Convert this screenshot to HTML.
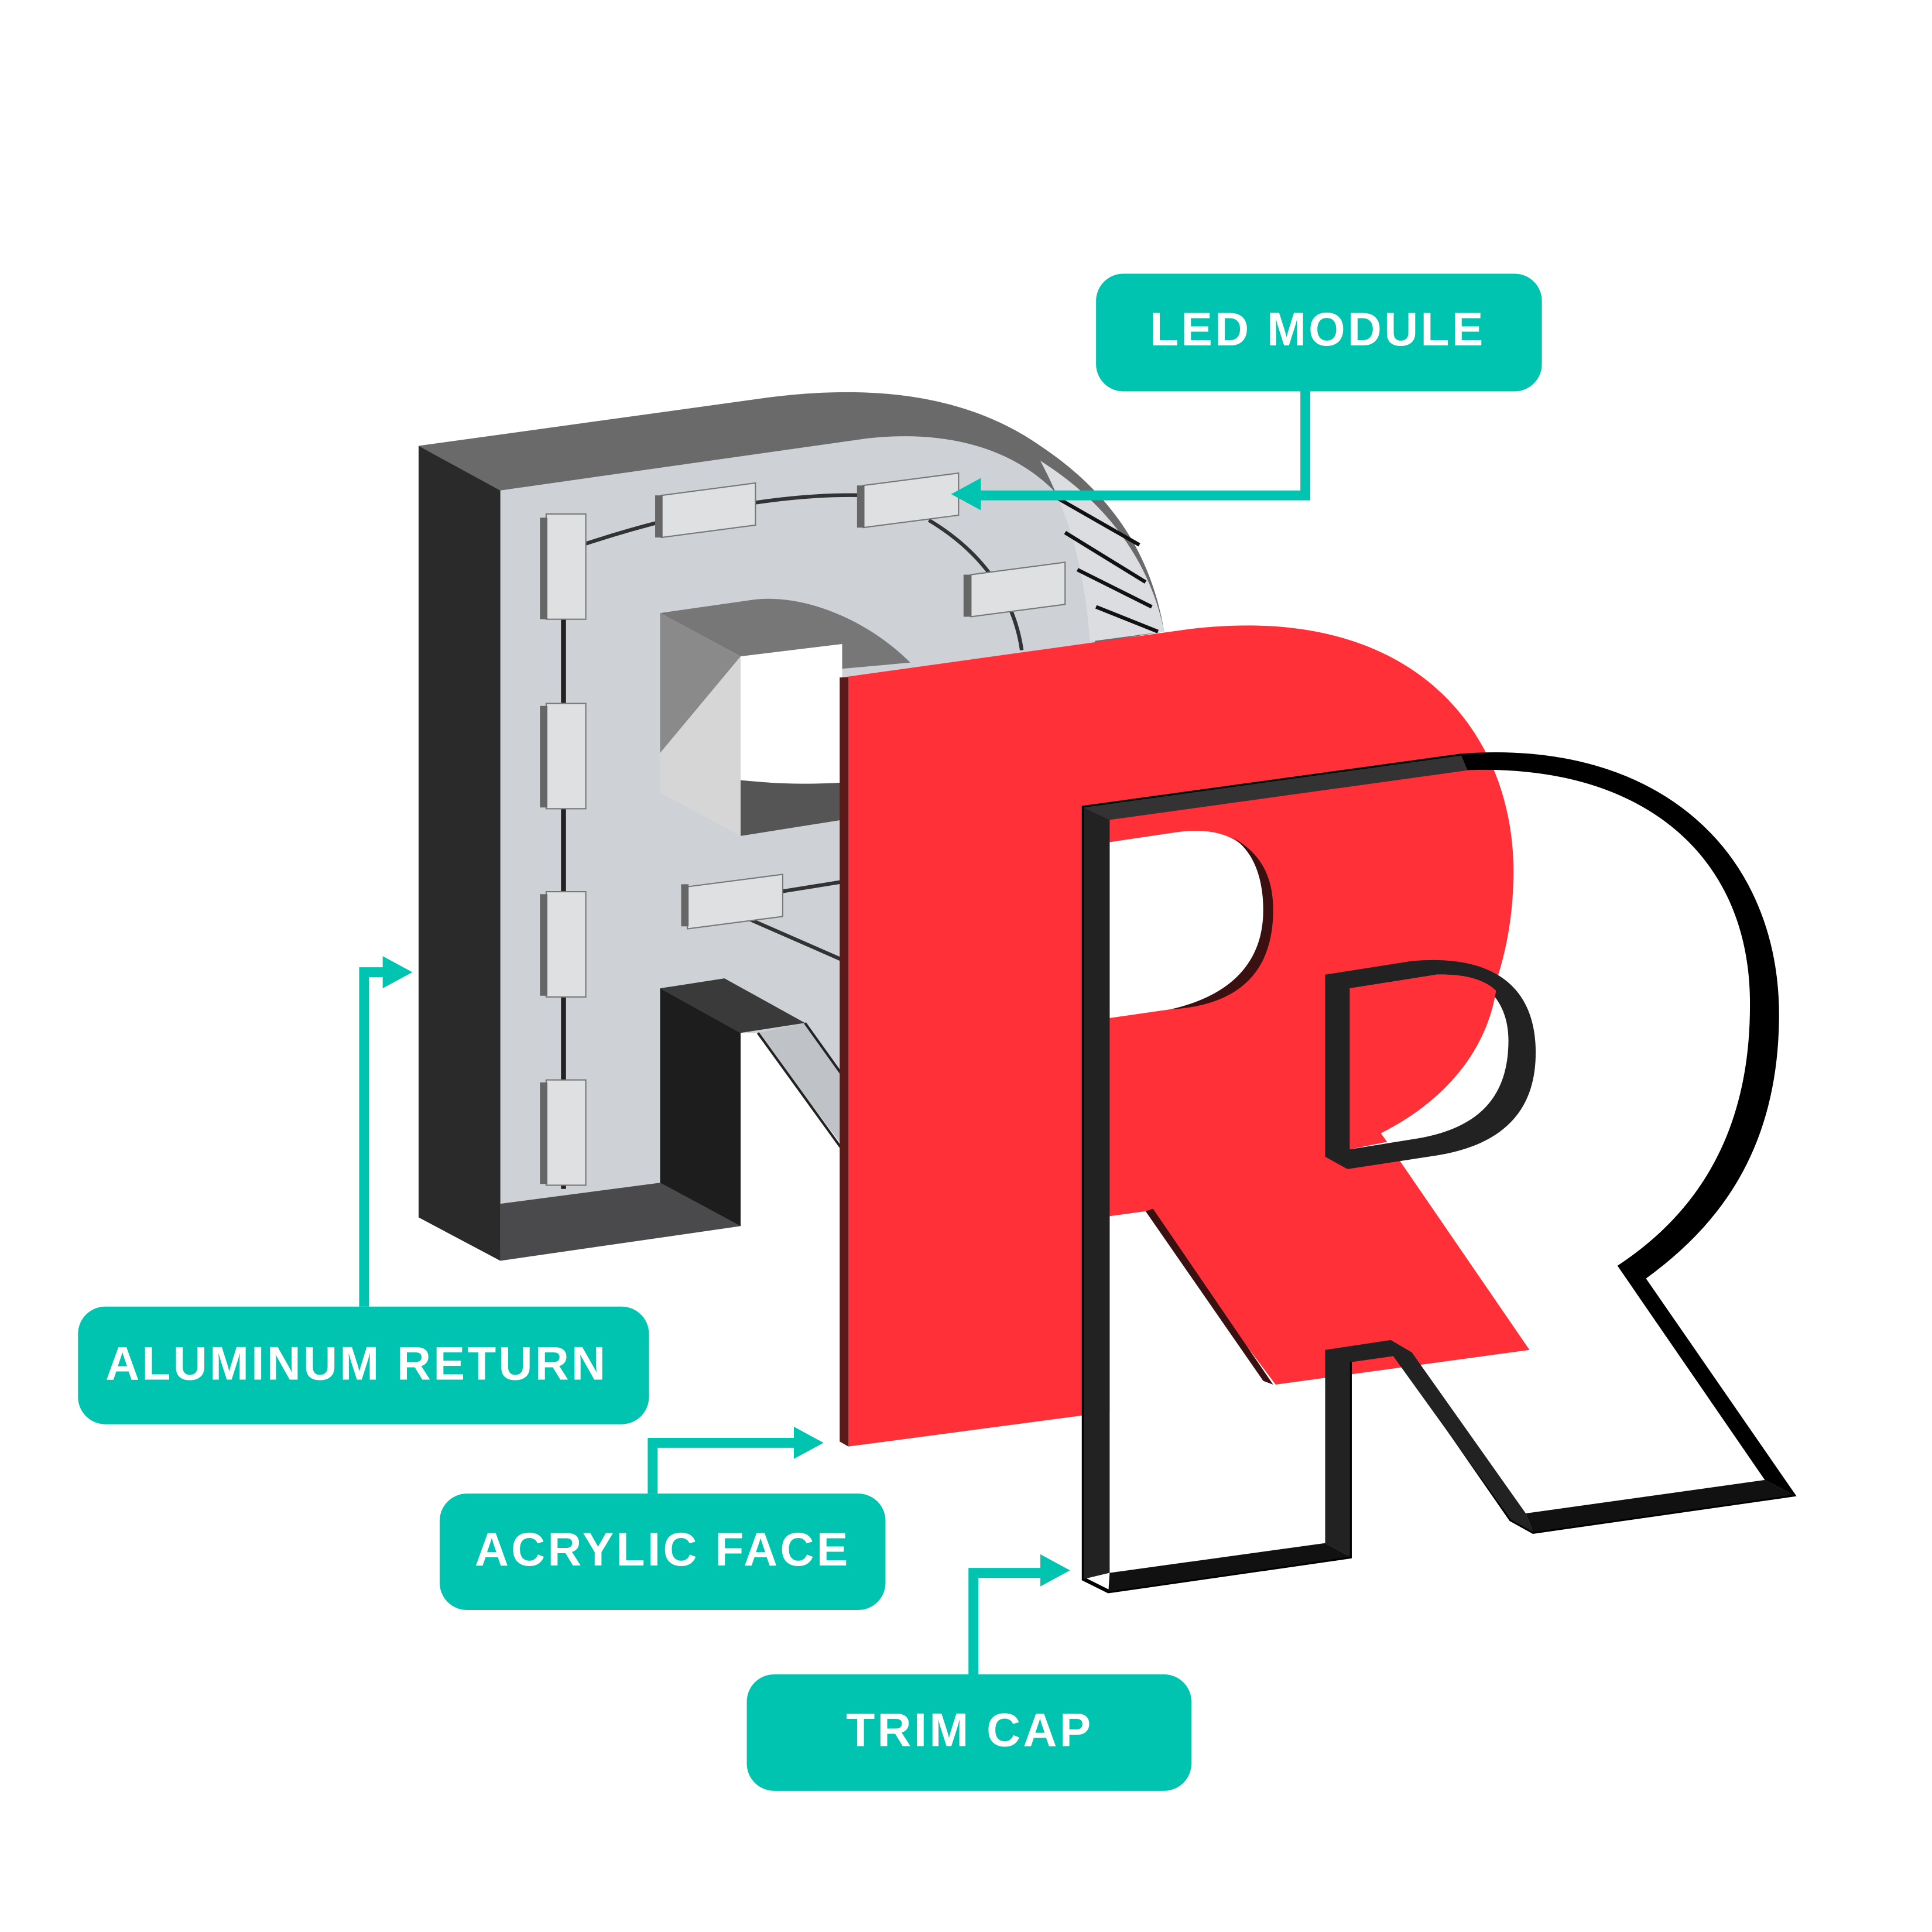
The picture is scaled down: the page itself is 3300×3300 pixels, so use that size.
<!DOCTYPE html>
<html><head><meta charset="utf-8"><style>
html,body{margin:0;padding:0;background:#fff}
svg{display:block}
text{font-family:"Liberation Sans",sans-serif;font-weight:bold;fill:#fff}
</style></head><body>
<svg width="3300" height="3300" viewBox="0 0 1560 1560" xmlns="http://www.w3.org/2000/svg">
<rect width="1560" height="1560" fill="#fff"/>
<!-- Gray R back -->
<path d="M338,360 L620,321 C720,308 790,325 840,360 C900,400 930,450 940,510 L880,520 C870,440 830,380 760,355 L404,396 Z" fill="#6a6a6b"/>
<path d="M404,396 L700,354 C780,345 850,370 880,440 C895,480 880,530 880,560 L680,560 L680,925 L612,834 L598,834 L598,990 L404,1018 Z" fill="#ced1d5"/>
<path d="M840,372 C900,410 930,460 940,510 L880,518 C875,450 860,410 840,372 Z" fill="#dcdde0"/>
<path d="M850,400 L920,440 M860,430 L925,470 M870,460 L930,490 M885,490 L935,510" stroke="#111" stroke-width="3"/>
<path d="M338,360 L404,396 L404,1018 L338,983 Z" fill="#2a2a2a"/>
<path d="M404,972 L533,955 L598,990 L404,1018 Z" fill="#4a4a4c"/>
<path d="M533,495 L610,484 C650,480 700,500 735,535 L680,540 L598,530 Z" fill="#777"/>
<path d="M598,530 L680,520 L680,632 C640,634 620,632 598,630 Z" fill="#fff"/>
<path d="M598,630 C620,632 640,634 680,632 L680,662 L598,675 Z" fill="#555"/>
<path d="M533,495 L598,530 L598,675 L533,640 Z" fill="#d6d6d6"/>
<path d="M533,495 L598,530 L533,608 Z" fill="#8a8a8a"/>
<path d="M533,798 L585,790 L650,826 L598,834 Z" fill="#3a3a3a"/>
<path d="M533,798 L598,834 L598,990 L533,955 Z" fill="#1d1d1d"/>
<path d="M612,834 L680,925 L680,870 L650,826 Z" fill="#bfc2c6"/>
<path d="M612,834 L680,928 M650,826 L680,868" stroke="#222" stroke-width="2"/>
<path d="M455,440 L455,960" stroke="#222" stroke-width="4"/>
<path d="M470,440 C560,410 640,398 700,400 M750,420 C800,450 820,490 825,525 M600,740 L680,775 M630,720 L680,712" stroke="#333" stroke-width="3" fill="none"/>
<g fill="#dfe0e2" stroke="#777" stroke-width="1">
<rect x="441" y="415" width="32" height="85"/><rect x="441" y="568" width="32" height="85"/>
<rect x="441" y="720" width="32" height="85"/><rect x="441" y="872" width="32" height="85"/>
<path d="M534,400 L610,390 L610,424 L534,434 Z"/><path d="M697,392 L774,382 L774,416 L697,426 Z"/>
<path d="M784,464 L860,454 L860,488 L784,498 Z"/><path d="M555,716 L632,706 L632,740 L555,750 Z"/>
</g>
<g fill="#666"><rect x="436" y="418" width="6" height="82"/><rect x="436" y="570" width="6" height="82"/><rect x="436" y="722" width="6" height="82"/><rect x="436" y="874" width="6" height="82"/>
<rect x="529" y="400" width="6" height="34"/><rect x="692" y="392" width="6" height="34"/><rect x="778" y="464" width="6" height="34"/><rect x="550" y="714" width="6" height="34"/></g>
<!-- Red face -->
<path d="M680,547 L960,508 C1150,485 1225,600 1222,710 C1220,800 1180,870 1115,915 L1235,1090 L1030,1118 L925,978 L896,982 L896,1140 L685,1168 Z" fill="#ff3038"/>
<path d="M678,547 L685,547 L685,1168 L678,1164 Z" fill="#5a1a1a"/>
<path d="M896,680 L950,672 C1000,665 1022,690 1022,735 C1022,780 995,808 945,815 L896,822 Z" fill="#fff"/>
<path d="M995,676 C1020,690 1028,710 1028,735 C1028,785 1000,812 945,815 C990,805 1020,780 1020,735 C1020,705 1010,686 995,676 Z" fill="#3a1010"/>
<path d="M925,978 L1020,1115 L1028,1118 L931,976 Z" fill="#3a1010"/>
<!-- White R trim -->
<path d="M875,652 L1180,610 C1340,598 1436,690 1435,822 C1434,930 1385,990 1327,1032 L1448,1207 L1238,1237 L1220,1227 L1125,1090 L1090,1096 L1090,1257 L895,1285 L875,1275 Z" fill="none" stroke="#000" stroke-width="3"/>
<path d="M1180,610 C1340,598 1436,690 1435,822 C1434,930 1385,990 1327,1032 L1448,1207 L1425,1195 L1306,1022 C1370,980 1413,915 1413,812 C1414,690 1325,615 1180,622 Z" fill="#000"/>
<path d="M875,652 L1180,610 L1185,622 L896,662 Z" fill="#333"/>
<path d="M875,652 L896,662 L896,1270 L875,1275 Z" fill="#222"/>
<path d="M896,1270 L1070,1246 L1090,1257 L895,1285 Z" fill="#111"/>
<path d="M1070,1090 L1123,1082 L1140,1092 L1232,1222 L1238,1237 L1220,1227 L1125,1095 L1090,1100 L1090,1257 L1070,1246 Z" fill="#222"/>
<path d="M1238,1237 L1448,1207 L1425,1195 L1232,1222 Z" fill="#111"/>
<path d="M1070,787 L1140,776 C1210,770 1240,800 1240,850 C1240,900 1210,925 1160,933 L1088,944 L1070,934 Z" fill="#222"/>
<path d="M1090,798 L1160,787 C1200,785 1218,810 1218,840 C1218,885 1195,912 1140,920 L1090,928 Z" fill="#fff"/>
<path d="M1090,798 L1160,787 C1185,786 1200,792 1208,800 C1200,850 1165,890 1115,915 L1120,922 L1090,928 Z" fill="#ff3038"/>
<!-- Labels -->
<g fill="#00c4b0">
<rect x="885" y="221" width="360" height="95" rx="22"/>
<rect x="63" y="1055" width="461" height="95" rx="22"/>
<rect x="355" y="1206" width="360" height="94" rx="22"/>
<rect x="603" y="1352" width="359" height="94" rx="22"/>
<path d="M768,399 L792,386 L792,412 Z"/>
<path d="M333,785 L309,772 L309,798 Z"/>
<path d="M665,1165 L641,1152 L641,1178 Z"/>
<path d="M864,1268 L840,1255 L840,1281 Z"/>
</g>
<g fill="none" stroke="#00c4b0" stroke-width="8">
<path d="M1054,316 L1054,400 L790,400"/>
<path d="M294,1055 L294,785 L312,785"/>
<path d="M527,1206 L527,1165 L643,1165"/>
<path d="M786,1352 L786,1270 L842,1270"/>
</g>
<g font-size="38" text-anchor="middle" letter-spacing="2">
<text x="1064" y="279">LED MODULE</text>
<text x="288" y="1114">ALUMINUM RETURN</text>
<text x="535" y="1264">ACRYLIC FACE</text>
<text x="783" y="1410">TRIM CAP</text>
</g>
</svg>
</body></html>
